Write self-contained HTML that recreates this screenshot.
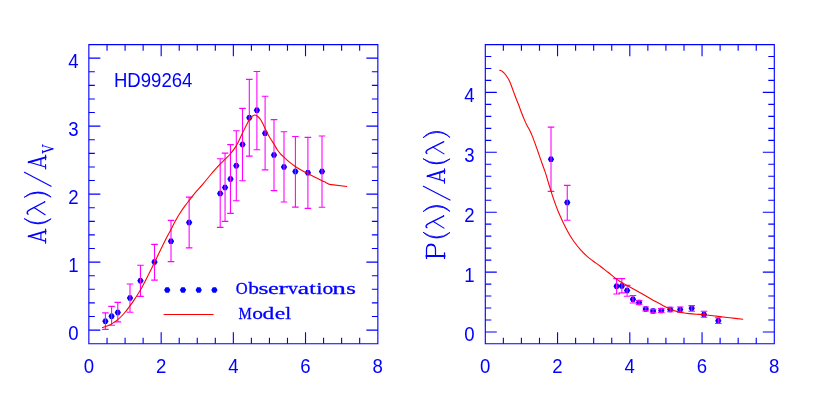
<!DOCTYPE html>
<html><head><meta charset="utf-8"><title>HD99264</title>
<style>html,body{margin:0;padding:0;background:#fff}svg{display:block;will-change:transform;opacity:0.9999}text{font-family:"Liberation Sans",sans-serif;fill:#0000ff}.s text{font-family:"Liberation Serif",serif}</style></head><body>
<svg width="817" height="417" viewBox="0 0 817 417">
<rect width="817" height="417" fill="#fff"/>
<path d="M88.85 44.65H377.85V343.75H88.85Z" fill="none" stroke="#0000ff" stroke-width="1.12" stroke-linejoin="miter"/>
<path d="M107.04 343.75v-6.00M107.04 44.65v6.00M125.09 343.75v-6.00M125.09 44.65v6.00M143.13 343.75v-6.00M143.13 44.65v6.00M161.18 343.75v-11.50M161.18 44.65v11.50M179.22 343.75v-6.00M179.22 44.65v6.00M197.26 343.75v-6.00M197.26 44.65v6.00M215.31 343.75v-6.00M215.31 44.65v6.00M233.35 343.75v-11.50M233.35 44.65v11.50M251.39 343.75v-6.00M251.39 44.65v6.00M269.44 343.75v-6.00M269.44 44.65v6.00M287.48 343.75v-6.00M287.48 44.65v6.00M305.52 343.75v-11.50M305.52 44.65v11.50M323.57 343.75v-6.00M323.57 44.65v6.00M341.61 343.75v-6.00M341.61 44.65v6.00M359.66 343.75v-6.00M359.66 44.65v6.00M88.85 330.10h11.50M377.85 330.10h-11.50M88.85 316.50h6.00M377.85 316.50h-6.00M88.85 302.91h6.00M377.85 302.91h-6.00M88.85 289.31h6.00M377.85 289.31h-6.00M88.85 275.72h6.00M377.85 275.72h-6.00M88.85 262.12h11.50M377.85 262.12h-11.50M88.85 248.52h6.00M377.85 248.52h-6.00M88.85 234.93h6.00M377.85 234.93h-6.00M88.85 221.33h6.00M377.85 221.33h-6.00M88.85 207.74h6.00M377.85 207.74h-6.00M88.85 194.14h11.50M377.85 194.14h-11.50M88.85 180.54h6.00M377.85 180.54h-6.00M88.85 166.95h6.00M377.85 166.95h-6.00M88.85 153.35h6.00M377.85 153.35h-6.00M88.85 139.76h6.00M377.85 139.76h-6.00M88.85 126.16h11.50M377.85 126.16h-11.50M88.85 112.56h6.00M377.85 112.56h-6.00M88.85 98.97h6.00M377.85 98.97h-6.00M88.85 85.37h6.00M377.85 85.37h-6.00M88.85 71.78h6.00M377.85 71.78h-6.00M88.85 58.18h11.50M377.85 58.18h-11.50" fill="none" stroke="#0000ff" stroke-width="1.12"/>
<path d="M485.30 44.65H774.30V343.75H485.30Z" fill="none" stroke="#0000ff" stroke-width="1.12" stroke-linejoin="miter"/>
<path d="M503.36 343.75v-6.00M503.36 44.65v6.00M521.42 343.75v-6.00M521.42 44.65v6.00M539.49 343.75v-6.00M539.49 44.65v6.00M557.55 343.75v-11.50M557.55 44.65v11.50M575.61 343.75v-6.00M575.61 44.65v6.00M593.67 343.75v-6.00M593.67 44.65v6.00M611.74 343.75v-6.00M611.74 44.65v6.00M629.80 343.75v-11.50M629.80 44.65v11.50M647.86 343.75v-6.00M647.86 44.65v6.00M665.92 343.75v-6.00M665.92 44.65v6.00M683.99 343.75v-6.00M683.99 44.65v6.00M702.05 343.75v-11.50M702.05 44.65v11.50M720.11 343.75v-6.00M720.11 44.65v6.00M738.17 343.75v-6.00M738.17 44.65v6.00M756.24 343.75v-6.00M756.24 44.65v6.00M485.30 332.00h11.50M774.30 332.00h-11.50M485.30 320.02h6.00M774.30 320.02h-6.00M485.30 308.04h6.00M774.30 308.04h-6.00M485.30 296.06h6.00M774.30 296.06h-6.00M485.30 284.08h6.00M774.30 284.08h-6.00M485.30 272.10h11.50M774.30 272.10h-11.50M485.30 260.12h6.00M774.30 260.12h-6.00M485.30 248.14h6.00M774.30 248.14h-6.00M485.30 236.16h6.00M774.30 236.16h-6.00M485.30 224.18h6.00M774.30 224.18h-6.00M485.30 212.20h11.50M774.30 212.20h-11.50M485.30 200.22h6.00M774.30 200.22h-6.00M485.30 188.24h6.00M774.30 188.24h-6.00M485.30 176.26h6.00M774.30 176.26h-6.00M485.30 164.28h6.00M774.30 164.28h-6.00M485.30 152.30h11.50M774.30 152.30h-11.50M485.30 140.32h6.00M774.30 140.32h-6.00M485.30 128.34h6.00M774.30 128.34h-6.00M485.30 116.36h6.00M774.30 116.36h-6.00M485.30 104.38h6.00M774.30 104.38h-6.00M485.30 92.40h11.50M774.30 92.40h-11.50M485.30 80.42h6.00M774.30 80.42h-6.00M485.30 68.44h6.00M774.30 68.44h-6.00M485.30 56.46h6.00M774.30 56.46h-6.00" fill="none" stroke="#0000ff" stroke-width="1.12"/>
<g font-size="18.6" text-anchor="middle">
<text transform="translate(89.00 372.80) scale(1 1.04)">0</text>
<text transform="translate(485.30 372.80) scale(1 1.04)">0</text>
<text transform="translate(161.18 372.80) scale(1 1.04)">2</text>
<text transform="translate(557.55 372.80) scale(1 1.04)">2</text>
<text transform="translate(233.35 372.80) scale(1 1.04)">4</text>
<text transform="translate(629.80 372.80) scale(1 1.04)">4</text>
<text transform="translate(305.52 372.80) scale(1 1.04)">6</text>
<text transform="translate(702.05 372.80) scale(1 1.04)">6</text>
<text transform="translate(377.70 372.80) scale(1 1.04)">8</text>
<text transform="translate(774.30 372.80) scale(1 1.04)">8</text>
</g>
<g font-size="18.6" text-anchor="end">
<text transform="translate(78.70 339.60) scale(1 1.04)">0</text>
<text transform="translate(474.70 341.40) scale(1 1.04)">0</text>
<text transform="translate(78.70 271.62) scale(1 1.04)">1</text>
<text transform="translate(474.70 281.50) scale(1 1.04)">1</text>
<text transform="translate(78.70 203.64) scale(1 1.04)">2</text>
<text transform="translate(474.70 221.60) scale(1 1.04)">2</text>
<text transform="translate(78.70 135.66) scale(1 1.04)">3</text>
<text transform="translate(474.70 161.70) scale(1 1.04)">3</text>
<text transform="translate(78.70 67.68) scale(1 1.04)">4</text>
<text transform="translate(474.70 101.80) scale(1 1.04)">4</text>
</g>
<g font-size="18.6"><text transform="translate(113.90 86.90) scale(1 1.04)">HD99264</text></g>
<path d="M108.55,321.30L106.98,324.03L103.83,324.03L102.25,321.30L103.83,318.57L106.98,318.57ZM114.75,316.20L113.17,318.93L110.02,318.93L108.45,316.20L110.02,313.47L113.17,313.47ZM120.95,312.50L119.38,315.23L116.22,315.23L114.65,312.50L116.22,309.77L119.38,309.77ZM133.15,298.00L131.57,300.73L128.43,300.73L126.85,298.00L128.43,295.27L131.57,295.27ZM143.60,280.80L142.02,283.53L138.88,283.53L137.30,280.80L138.88,278.07L142.02,278.07ZM157.65,262.00L156.07,264.73L152.93,264.73L151.35,262.00L152.93,259.27L156.07,259.27ZM174.15,241.30L172.57,244.03L169.43,244.03L167.85,241.30L169.43,238.57L172.57,238.57ZM192.30,222.40L190.72,225.13L187.58,225.13L186.00,222.40L187.58,219.67L190.72,219.67ZM223.35,193.40L221.77,196.13L218.62,196.13L217.05,193.40L218.62,190.67L221.77,190.67ZM228.20,187.40L226.62,190.13L223.48,190.13L221.90,187.40L223.48,184.67L226.62,184.67ZM233.65,179.00L232.07,181.73L228.93,181.73L227.35,179.00L228.93,176.27L232.07,176.27ZM239.45,165.70L237.88,168.43L234.73,168.43L233.15,165.70L234.73,162.97L237.88,162.97ZM245.65,144.60L244.07,147.33L240.93,147.33L239.35,144.60L240.93,141.87L244.07,141.87ZM252.45,117.70L250.88,120.43L247.73,120.43L246.15,117.70L247.73,114.97L250.88,114.97ZM260.05,110.25L258.47,112.98L255.32,112.98L253.75,110.25L255.32,107.52L258.47,107.52ZM268.25,133.20L266.68,135.93L263.53,135.93L261.95,133.20L263.53,130.47L266.68,130.47ZM277.15,155.10L275.57,157.83L272.43,157.83L270.85,155.10L272.43,152.37L275.57,152.37ZM287.15,166.90L285.57,169.63L282.43,169.63L280.85,166.90L282.43,164.17L285.57,164.17ZM298.55,171.60L296.97,174.33L293.82,174.33L292.25,171.60L293.82,168.87L296.97,168.87ZM311.05,172.80L309.47,175.53L306.32,175.53L304.75,172.80L306.32,170.07L309.47,170.07ZM325.15,171.40L323.57,174.13L320.43,174.13L318.85,171.40L320.43,168.67L323.57,168.67Z" fill="#0000ff"/>
<path d="M554.15,159.35L552.58,162.08L549.42,162.08L547.85,159.35L549.42,156.62L552.58,156.62ZM570.40,202.60L568.83,205.33L565.67,205.33L564.10,202.60L565.67,199.87L568.83,199.87ZM619.75,286.30L618.18,289.03L615.02,289.03L613.45,286.30L615.02,283.57L618.18,283.57ZM625.00,286.00L623.43,288.73L620.27,288.73L618.70,286.00L620.27,283.27L623.43,283.27ZM630.25,290.60L628.68,293.33L625.52,293.33L623.95,290.60L625.52,287.87L628.68,287.87ZM636.10,299.20L634.53,301.93L631.38,301.93L629.80,299.20L631.38,296.47L634.53,296.47ZM642.25,302.40L640.68,305.13L637.52,305.13L635.95,302.40L637.52,299.67L640.68,299.67ZM648.90,308.90L647.33,311.63L644.17,311.63L642.60,308.90L644.17,306.17L647.33,306.17ZM656.25,310.90L654.68,313.63L651.52,313.63L649.95,310.90L651.52,308.17L654.68,308.17ZM664.45,310.40L662.88,313.13L659.72,313.13L658.15,310.40L659.72,307.67L662.88,307.67ZM673.40,309.55L671.83,312.28L668.67,312.28L667.10,309.55L668.67,306.82L671.83,306.82ZM683.35,309.55L681.78,312.28L678.62,312.28L677.05,309.55L678.62,306.82L681.78,306.82ZM694.85,308.35L693.28,311.08L690.12,311.08L688.55,308.35L690.12,305.62L693.28,305.62ZM707.15,314.50L705.58,317.23L702.42,317.23L700.85,314.50L702.42,311.77L705.58,311.77ZM721.45,320.70L719.88,323.43L716.72,323.43L715.15,320.70L716.72,317.97L719.88,317.97Z" fill="#0000ff"/>
<path d="M105.40 312.90V329.40M102.10 312.90h6.60M102.10 329.40h6.60M111.60 306.40V325.20M108.30 306.40h6.60M108.30 325.20h6.60M117.80 302.40V321.90M114.50 302.40h6.60M114.50 321.90h6.60M130.00 284.00V312.20M126.70 284.00h6.60M126.70 312.20h6.60M140.45 265.20V296.40M137.15 265.20h6.60M137.15 296.40h6.60M154.50 244.40V280.10M151.20 244.40h6.60M151.20 280.10h6.60M171.00 220.40V261.60M167.70 220.40h6.60M167.70 261.60h6.60M189.15 197.10V247.90M185.85 197.10h6.60M185.85 247.90h6.60M220.20 158.80V227.40M216.90 158.80h6.60M216.90 227.40h6.60M225.05 153.10V221.40M221.75 153.10h6.60M221.75 221.40h6.60M230.50 144.60V213.40M227.20 144.60h6.60M227.20 213.40h6.60M236.30 130.80V200.70M233.00 130.80h6.60M233.00 200.70h6.60M242.50 108.40V180.70M239.20 108.40h6.60M239.20 180.70h6.60M249.30 79.40V156.10M246.00 79.40h6.60M246.00 156.10h6.60M256.90 71.50V149.70M253.60 71.50h6.60M253.60 149.70h6.60M265.10 96.30V169.90M261.80 96.30h6.60M261.80 169.90h6.60M274.00 119.60V190.60M270.70 119.60h6.60M270.70 190.60h6.60M284.00 131.80V202.00M280.70 131.80h6.60M280.70 202.00h6.60M295.40 136.50V207.10M292.10 136.50h6.60M292.10 207.10h6.60M307.90 137.40V208.40M304.60 137.40h6.60M304.60 208.40h6.60M322.00 136.00V207.20M318.70 136.00h6.60M318.70 207.20h6.60" fill="none" stroke="#ff00ff" stroke-width="1.08"/>
<path d="M551.00 127.10V191.40M547.70 127.10h6.60M547.70 191.40h6.60M567.25 185.40V220.20M563.95 185.40h6.60M563.95 220.20h6.60M616.60 278.60V294.00M613.30 278.60h6.60M613.30 294.00h6.60M621.85 278.60V292.90M618.55 278.60h6.60M618.55 292.90h6.60M627.10 285.40V296.20M623.80 285.40h6.60M623.80 296.20h6.60M632.95 295.50V303.00M629.65 295.50h6.60M629.65 303.00h6.60M639.10 300.50V304.40M635.80 300.50h6.60M635.80 304.40h6.60M645.75 307.00V310.90M642.45 307.00h6.60M642.45 310.90h6.60M653.10 309.20V312.90M649.80 309.20h6.60M649.80 312.90h6.60M661.30 308.60V312.40M658.00 308.60h6.60M658.00 312.40h6.60M670.25 307.30V311.80M666.95 307.30h6.60M666.95 311.80h6.60M680.20 307.00V312.10M676.90 307.00h6.60M676.90 312.10h6.60M691.70 305.60V311.30M688.40 305.60h6.60M688.40 311.30h6.60M704.00 311.30V317.20M700.70 311.30h6.60M700.70 317.20h6.60M718.30 317.80V323.50M715.00 317.80h6.60M715.00 323.50h6.60" fill="none" stroke="#ff00ff" stroke-width="1.08"/>
<path d="M102.50 327.50C103.25 327.25 105.48 326.60 107.00 326.00C108.52 325.40 109.80 324.97 111.60 323.90C113.40 322.83 115.73 321.33 117.80 319.60C119.87 317.87 121.97 315.78 124.00 313.50C126.03 311.22 128.17 308.38 130.00 305.90C131.83 303.42 133.27 301.23 135.00 298.60C136.73 295.97 138.18 294.03 140.40 290.10C142.62 286.17 145.97 279.55 148.30 275.00C150.63 270.45 152.45 266.80 154.40 262.80C156.35 258.80 158.17 254.82 160.00 251.00C161.83 247.18 163.57 243.48 165.40 239.90C167.23 236.32 169.38 232.57 171.00 229.50C172.62 226.43 173.57 224.28 175.10 221.50C176.63 218.72 178.65 215.28 180.20 212.80C181.75 210.32 182.87 208.70 184.40 206.60C185.93 204.50 187.58 202.53 189.40 200.20C191.22 197.87 193.20 195.12 195.30 192.60C197.40 190.08 199.48 188.03 202.00 185.10C204.52 182.17 208.50 177.28 210.40 175.00C212.30 172.72 211.78 173.20 213.40 171.40C215.02 169.60 218.15 166.23 220.10 164.20C222.05 162.17 223.42 160.90 225.10 159.20C226.78 157.50 228.38 156.18 230.20 154.00C232.02 151.82 234.03 149.52 236.05 146.10C238.07 142.68 240.64 136.85 242.30 133.50C243.96 130.15 244.87 128.23 246.00 126.00C247.13 123.77 248.18 121.60 249.10 120.10C250.02 118.60 250.80 117.75 251.50 117.00C252.20 116.25 252.72 115.93 253.30 115.60C253.88 115.27 254.43 114.98 255.00 115.00C255.57 115.02 256.07 115.28 256.70 115.70C257.33 116.12 258.08 116.73 258.80 117.50C259.52 118.27 260.30 119.22 261.00 120.30C261.70 121.38 262.28 122.55 263.00 124.00C263.72 125.45 264.47 127.25 265.30 129.00C266.13 130.75 267.00 132.67 268.00 134.50C269.00 136.33 270.30 138.42 271.30 140.00C272.30 141.58 273.03 142.42 274.00 144.00C274.97 145.58 276.02 147.87 277.10 149.50C278.18 151.13 279.35 152.52 280.50 153.80C281.65 155.08 282.50 155.80 284.00 157.20C285.50 158.60 287.62 160.65 289.50 162.20C291.38 163.75 293.30 165.17 295.30 166.50C297.30 167.83 299.42 169.02 301.50 170.20C303.58 171.38 305.55 172.42 307.80 173.60C310.05 174.78 312.70 176.17 315.00 177.30C317.30 178.43 319.83 179.55 321.60 180.40C323.37 181.25 324.27 181.73 325.60 182.40C326.93 183.07 328.93 184.07 329.60 184.40L346.7 186.5" fill="none" stroke="#ff0000" stroke-width="1.1" stroke-linejoin="round" stroke-linecap="round"/>
<path d="M499.60 70.20C500.02 70.37 501.10 70.43 502.10 71.20C503.10 71.97 504.32 73.05 505.60 74.80C506.88 76.55 508.52 78.98 509.80 81.70C511.08 84.42 512.22 88.22 513.30 91.10C514.38 93.98 515.30 96.43 516.30 99.00C517.30 101.57 518.60 104.67 519.30 106.50C520.00 108.33 519.65 107.77 520.50 110.00C521.35 112.23 523.32 117.33 524.40 119.90C525.48 122.47 526.15 123.72 527.00 125.40C527.85 127.08 528.63 128.25 529.50 130.00C530.37 131.75 531.12 133.22 532.20 135.90C533.28 138.58 534.87 142.98 536.00 146.10C537.13 149.22 538.18 152.27 539.00 154.60C539.82 156.93 540.07 157.73 540.90 160.10C541.73 162.47 543.16 166.43 544.00 168.80C544.84 171.17 545.20 171.93 545.95 174.30C546.70 176.67 547.66 180.22 548.50 183.00C549.34 185.78 550.25 188.60 551.00 191.00C551.75 193.40 552.30 195.30 553.00 197.40C553.70 199.50 554.37 201.33 555.20 203.60C556.03 205.87 557.02 208.62 558.00 211.00C558.98 213.38 560.05 215.68 561.05 217.90C562.05 220.12 563.02 222.28 564.00 224.30C564.98 226.32 565.85 228.05 566.90 230.00C567.95 231.95 569.07 234.00 570.30 236.00C571.53 238.00 572.68 239.80 574.30 242.00C575.92 244.20 578.00 246.92 580.00 249.20C582.00 251.48 584.13 253.73 586.30 255.70C588.47 257.67 590.72 259.28 593.00 261.00C595.28 262.72 597.50 264.12 600.00 266.00C602.50 267.88 605.43 270.27 608.00 272.30C610.57 274.33 613.40 276.67 615.40 278.20C617.40 279.73 618.07 280.30 620.00 281.50C621.93 282.70 624.60 284.07 627.00 285.40C629.40 286.73 631.97 288.13 634.40 289.50C636.83 290.87 639.20 292.22 641.60 293.60C644.00 294.98 646.40 296.43 648.80 297.80C651.20 299.17 653.60 300.48 656.00 301.80C658.40 303.12 660.80 304.47 663.20 305.70C665.60 306.93 668.02 308.22 670.40 309.20C672.78 310.18 675.40 311.00 677.50 311.60C679.60 312.20 681.07 312.47 683.00 312.80C684.93 313.13 686.93 313.37 689.10 313.60C691.27 313.83 693.52 314.02 696.00 314.20C698.48 314.38 701.50 314.48 704.00 314.70C706.50 314.92 708.63 315.22 711.00 315.50C713.37 315.78 715.03 316.02 718.20 316.40C721.37 316.78 725.90 317.32 730.00 317.80C734.10 318.28 740.67 319.05 742.80 319.30" fill="none" stroke="#ff0000" stroke-width="1.1" stroke-linejoin="round" stroke-linecap="round"/>
<path d="M170.40,290.10L168.82,292.83L165.68,292.83L164.10,290.10L165.68,287.37L168.82,287.37ZM186.15,290.10L184.57,292.83L181.43,292.83L179.85,290.10L181.43,287.37L184.57,287.37ZM201.85,290.10L200.27,292.83L197.12,292.83L195.55,290.10L197.12,287.37L200.27,287.37ZM217.55,290.10L215.97,292.83L212.83,292.83L211.25,290.10L212.83,287.37L215.97,287.37Z" fill="#0000ff"/>
<path d="M163.6 314.5H213.6" stroke="#ff0000" stroke-width="1.15" fill="none"/>
<g class="s" font-size="18.5" stroke="#0000ff" stroke-width="0.3">
<text transform="translate(235.83 293.8) scale(0.894 0.95)">O</text><text transform="translate(248.30 293.8) scale(1.153 0.95)">b</text><text transform="translate(258.56 293.8) scale(1.391 0.95)">s</text><text transform="translate(268.02 293.8) scale(1.304 0.95)">e</text><text transform="translate(278.62 293.8) scale(1.513 0.95)">r</text><text transform="translate(288.10 293.8) scale(1.070 0.95)">v</text><text transform="translate(297.67 293.8) scale(1.379 0.95)">a</text><text transform="translate(309.28 293.8) scale(1.263 0.95)">t</text><text transform="translate(316.24 293.8) scale(1.212 0.95)">i</text><text transform="translate(322.43 293.8) scale(1.161 0.95)">o</text><text transform="translate(332.36 293.8) scale(1.471 0.95)">n</text><text transform="translate(346.30 293.8) scale(1.339 0.95)">s</text>
<text transform="translate(238.60 318.85) scale(0.806 0.95)">M</text><text transform="translate(252.13 318.85) scale(1.161 0.95)">o</text><text transform="translate(262.55 318.85) scale(1.273 0.95)">d</text><text transform="translate(274.74 318.85) scale(1.274 0.95)">e</text><text transform="translate(285.26 318.85) scale(1.144 0.95)">l</text>
</g>
<g fill="none" stroke="#0000ff" stroke-linecap="round" stroke-linejoin="round">
<path d="M7.35 17.0L2.4 0" stroke-width="1.10" transform="translate(45.60 243.50) rotate(-90) translate(0 0.00) scale(1.0 -1.0)"/><path d="M7.10 17.0L12.10 0" stroke-width="1.90" transform="translate(45.60 243.50) rotate(-90) translate(0 0.00) scale(1.0 -1.0)"/><path d="M4.0 4.7H10.50" stroke-width="1.10" transform="translate(45.60 243.50) rotate(-90) translate(0 0.00) scale(1.0 -1.0)"/><path d="M0.3 0H4.9M9.60 0H14.40" stroke-width="1.10" transform="translate(45.60 243.50) rotate(-90) translate(0 0.00) scale(1.0 -1.0)"/><path d="M5.50 21.2A20.02 20.02 0 0 1 5.50 -5.5A23.55 23.55 0 0 0 5.50 21.2Z" stroke-width="0.85" fill="#0000ff" transform="translate(45.60 224.30) rotate(-90) translate(0 0.00) scale(1.0 -1.0)"/><path d="M1.05 17.6C1.90 19.2 4.21 18.6 5.58 15.6L12.95 1.5Q13.37 0.5 13.50 1.0" stroke-width="1.40" transform="translate(45.60 215.20) rotate(-90) translate(0 0.00) scale(1.0 -1.0)"/><path d="M7.69 11.6L0.5 0.5" stroke-width="1.10" transform="translate(45.60 215.20) rotate(-90) translate(0 0.00) scale(1.0 -1.0)"/><path d="M0.40 21.2A20.02 20.02 0 0 0 0.40 -5.5A23.55 23.55 0 0 1 0.40 21.2Z" stroke-width="0.85" fill="#0000ff" transform="translate(45.60 197.50) rotate(-90) translate(0 0.00) scale(1.0 -1.0)"/><path d="M0.4 -5.5L14.30 21.2" stroke-width="1.10" transform="translate(45.60 186.60) rotate(-90) translate(0 0.00) scale(1.0 -1.0)"/><path d="M7.33 17.0L2.4 0" stroke-width="1.10" transform="translate(45.60 169.35) rotate(-90) translate(0 0.00) scale(1.0 -1.0)"/><path d="M7.08 17.0L12.05 0" stroke-width="1.90" transform="translate(45.60 169.35) rotate(-90) translate(0 0.00) scale(1.0 -1.0)"/><path d="M4.0 4.7H10.45" stroke-width="1.10" transform="translate(45.60 169.35) rotate(-90) translate(0 0.00) scale(1.0 -1.0)"/><path d="M0.3 0H4.9M9.55 0H14.35" stroke-width="1.10" transform="translate(45.60 169.35) rotate(-90) translate(0 0.00) scale(1.0 -1.0)"/><path d="M2.3 18L7.93 0.3" stroke-width="2.49" transform="translate(45.60 153.40) rotate(-90) translate(0 7.40) scale(0.58 -0.58)"/><path d="M13.56 18L7.93 0.3" stroke-width="1.44" transform="translate(45.60 153.40) rotate(-90) translate(0 7.40) scale(0.58 -0.58)"/><path d="M0.3 18H5.0M11.56 18H15.06" stroke-width="1.44" transform="translate(45.60 153.40) rotate(-90) translate(0 7.40) scale(0.58 -0.58)"/>
<path d="M2.8 0V18" stroke-width="2.20" transform="translate(444.50 258.80) rotate(-90) translate(0 0.00) scale(1.0 -1.0)"/><path d="M0.3 0H6.0M0.3 18H3" stroke-width="1.25" transform="translate(444.50 258.80) rotate(-90) translate(0 0.00) scale(1.0 -1.0)"/><path d="M2.8 18H9.2Q14.50 18 14.50 13.5Q14.50 9.0 9.2 9.0H2.8" stroke-width="1.25" transform="translate(444.50 258.80) rotate(-90) translate(0 0.00) scale(1.0 -1.0)"/><path d="M13.50 16.0Q14.80 13.5 13.50 11.0" stroke-width="1.90" transform="translate(444.50 258.80) rotate(-90) translate(0 0.00) scale(1.0 -1.0)"/><path d="M6.00 21.2A18.71 18.71 0 0 1 6.00 -5.5A21.49 21.49 0 0 0 6.00 21.2Z" stroke-width="0.85" fill="#0000ff" transform="translate(444.50 238.40) rotate(-90) translate(0 0.00) scale(1.0 -1.0)"/><path d="M1.00 17.6C1.80 19.2 4.00 18.6 5.30 15.6L12.30 1.5Q12.70 0.5 12.80 1.0" stroke-width="1.40" transform="translate(444.50 228.60) rotate(-90) translate(0 0.00) scale(1.0 -1.0)"/><path d="M7.30 11.6L0.5 0.5" stroke-width="1.10" transform="translate(444.50 228.60) rotate(-90) translate(0 0.00) scale(1.0 -1.0)"/><path d="M0.40 21.2A18.05 18.05 0 0 0 0.40 -5.5A20.48 20.48 0 0 1 0.40 21.2Z" stroke-width="0.85" fill="#0000ff" transform="translate(444.50 211.80) rotate(-90) translate(0 0.00) scale(1.0 -1.0)"/><path d="M0.4 -5.5L14.20 21.2" stroke-width="1.10" transform="translate(444.50 200.50) rotate(-90) translate(0 0.00) scale(1.0 -1.0)"/><path d="M7.55 17.0L2.4 0" stroke-width="1.10" transform="translate(444.50 183.50) rotate(-90) translate(0 0.00) scale(1.0 -1.0)"/><path d="M7.30 17.0L12.50 0" stroke-width="1.90" transform="translate(444.50 183.50) rotate(-90) translate(0 0.00) scale(1.0 -1.0)"/><path d="M4.0 4.7H10.90" stroke-width="1.10" transform="translate(444.50 183.50) rotate(-90) translate(0 0.00) scale(1.0 -1.0)"/><path d="M0.3 0H4.9M10.00 0H14.80" stroke-width="1.10" transform="translate(444.50 183.50) rotate(-90) translate(0 0.00) scale(1.0 -1.0)"/><path d="M5.40 21.2A20.32 20.32 0 0 1 5.40 -5.5A24.03 24.03 0 0 0 5.40 21.2Z" stroke-width="0.85" fill="#0000ff" transform="translate(444.50 164.30) rotate(-90) translate(0 0.00) scale(1.0 -1.0)"/><path d="M1.00 17.6C1.80 19.2 4.00 18.6 5.30 15.6L12.30 1.5Q12.70 0.5 12.80 1.0" stroke-width="1.40" transform="translate(444.50 154.40) rotate(-90) translate(0 0.00) scale(1.0 -1.0)"/><path d="M7.30 11.6L0.5 0.5" stroke-width="1.10" transform="translate(444.50 154.40) rotate(-90) translate(0 0.00) scale(1.0 -1.0)"/><path d="M0.40 21.2A17.66 17.66 0 0 0 0.40 -5.5A19.88 19.88 0 0 1 0.40 21.2Z" stroke-width="0.85" fill="#0000ff" transform="translate(444.50 137.90) rotate(-90) translate(0 0.00) scale(1.0 -1.0)"/>
</g>
</svg></body></html>
